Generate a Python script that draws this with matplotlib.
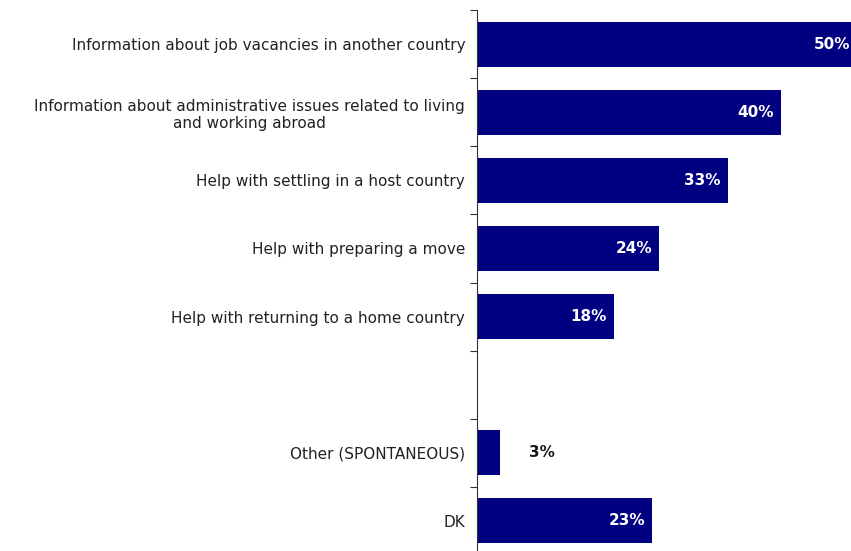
import matplotlib
matplotlib.use("Agg")
import matplotlib.pyplot as plt
import numpy as np

categories = [
    "Information about job vacancies in another country",
    "Information about administrative issues related to living\nand working abroad",
    "Help with settling in a host country",
    "Help with preparing a move",
    "Help with returning to a home country",
    "",
    "Other (SPONTANEOUS)",
    "DK",
]
values = [50, 40, 33, 24, 18, None, 3, 23]
value_labels = ["50%", "40%", "33%", "24%", "18%", "", "3%", "23%"]

navy = "#000080"

fig = plt.figure(figsize=(8.51, 5.51), dpi=100)
W, H = 851, 551
left_px, right_px = 477, 851
top_px, bottom_px = 10, 555
ax = fig.add_axes([left_px / W, 1 - bottom_px / H,
                   (right_px - left_px) / W, (bottom_px - top_px) / H])

n = len(categories)
pos = np.arange(n)
for p, v, lab in zip(pos, values, value_labels):
    if v is None:
        continue
    ax.barh(p, v, height=0.66, color=navy, edgecolor="none")
    if v >= 10:
        ax.annotate(lab, xy=(v, p), xytext=(-5, 0), textcoords="offset points",
                    ha="right", va="center", color="white", fontsize=11,
                    fontweight="bold", family="DejaVu Sans",
                    annotation_clip=False)
    else:
        ax.annotate(lab, xy=(v, p), xytext=(21, 0), textcoords="offset points",
                    ha="left", va="center", color="#1a1a1a", fontsize=11,
                    fontweight="bold", family="DejaVu Sans",
                    annotation_clip=False)

ax.set_xlim(0, 49.2)
ax.set_ylim(n - 0.5, -0.5)

# boundary ticks on the axis, category labels centred between them
ax.set_yticks(np.arange(-0.5, n - 0.5, 1.0))
ax.set_yticklabels([])
ax.tick_params(axis="y", which="major", length=5, width=0.8, color="#333333")
ax.set_yticks(pos, minor=True)
ax.set_yticklabels(categories, minor=True, fontsize=11, color="#222222",
                   family="DejaVu Sans", multialignment="center")
ax.tick_params(axis="y", which="minor", length=0, pad=8.5)

ax.set_xticks([])
for s in ["top", "right", "bottom"]:
    ax.spines[s].set_visible(False)
ax.spines["left"].set_color("#333333")
ax.spines["left"].set_linewidth(0.8)

fig.savefig("out.png", dpi=100)
